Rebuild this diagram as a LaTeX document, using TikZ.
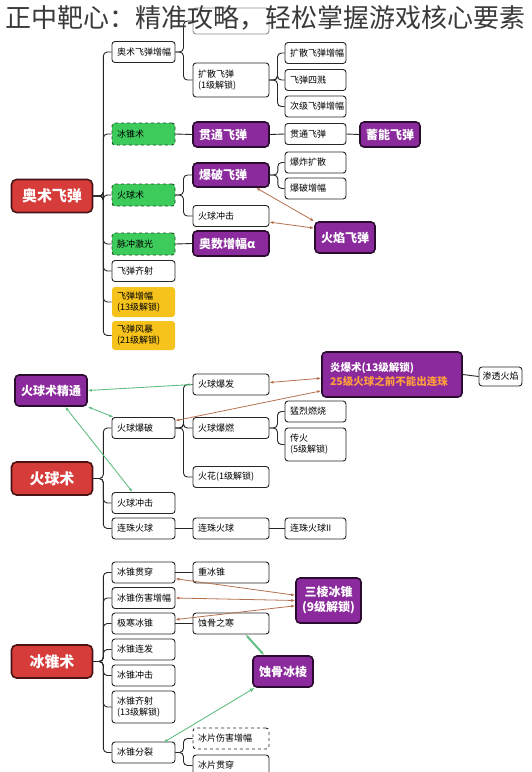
\documentclass[tikz,border=0pt]{standalone}
\usepackage{fontspec}
\setmainfont{Noto Sans CJK SC}
\usetikzlibrary{arrows.meta}

\definecolor{rootred}{HTML}{D63C3A}
\definecolor{rootline}{HTML}{4A1414}
\definecolor{skillpurple}{HTML}{8B2A9C}
\definecolor{purpleline}{HTML}{2B0B2E}
\definecolor{skillgreen}{HTML}{3DCB5B}
\definecolor{greenline}{HTML}{1E4D26}
\definecolor{unlockyellow}{HTML}{F6C31C}
\definecolor{linkbrown}{HTML}{B5714E}
\definecolor{linkgreen}{HTML}{62BE82}
\definecolor{hinttext}{HTML}{FF9E3D}
\definecolor{titlegray}{HTML}{3A3A3A}

\begin{document}
\begin{tikzpicture}[x=1pt,y=-1pt,
    box/.style={draw=black!85, line width=0.9pt, rounded corners=3pt, fill=white,
      inner xsep=5pt, inner ysep=2pt, minimum height=21pt, align=left,
      font=\fontsize{9}{11}\selectfont},
    boxA/.style={box, text width=53pt},
    boxB/.style={box, text width=66pt},
    boxC/.style={box, text width=51pt},
    root/.style={draw=rootline, fill=rootred, line width=1.6pt, rounded corners=5pt,
      text=white, minimum width=81pt, minimum height=33pt,
      font=\fontsize{15}{17}\selectfont\bfseries},
    hi/.style={draw=purpleline, fill=skillpurple, line width=1.6pt, rounded corners=4pt,
      text=white, inner xsep=6pt, font=\fontsize{12}{15}\selectfont\bfseries},
    hiB/.style={hi, text width=64pt, minimum height=25pt, align=left},
    grn/.style={boxA, draw=greenline, fill=skillgreen, dashed, minimum height=22pt},
    ylw/.style={boxA, draw=none, fill=unlockyellow, minimum height=30pt},
    tree/.style={draw=black!85, line width=0.9pt, rounded corners=4pt},
    link/.style={draw=linkbrown, line width=0.8pt,
      {Latex[length=4pt,width=3pt]}-{Latex[length=4pt,width=3pt]}},
    glink/.style={draw=linkgreen, line width=0.9pt,
      {Latex[length=4pt,width=3pt]}-{Latex[length=4pt,width=3pt]}},
  ]
  \useasboundingbox (0,0) rectangle (531,772);

  % 奥术飞弹
  \node[boxB, draw=black!45, minimum height=26pt] (top) at (231,21) {};
  \node[root] (am) at (52,196) {奥术飞弹};
  \node[boxA] (a1) at (143.5,52) {奥术飞弹增幅};
  \node[grn] (a2) at (143.5,134) {冰锥术};
  \node[grn] (a3) at (143.5,195) {火球术};
  \node[grn] (a4) at (143.5,244) {脉冲激光};
  \node[boxA] (a5) at (143.5,271) {飞弹齐射};
  \node[ylw] (a6) at (143.5,302) {飞弹增幅\\(13级解锁)};
  \node[ylw, minimum height=29pt] (a7) at (143.5,335.5) {飞弹风暴\\(21级解锁)};
  \node[boxB, minimum height=34pt] (b1) at (231,80) {扩散飞弹\\(1级解锁)};
  \node[hiB] (b2) at (231,134.5) {贯通飞弹};
  \node[hiB, minimum height=24pt] (b3) at (231,175) {爆破飞弹};
  \node[boxB] (b4) at (231,216) {火球冲击};
  \node[hiB] (b5) at (231,243.5) {奥数增幅α};
  \node[boxC] (c1) at (315.5,53) {扩散飞弹增幅};
  \node[boxC] (c2) at (315.5,80) {飞弹四溅};
  \node[boxC] (c3) at (315.5,106.5) {次级飞弹增幅};
  \node[boxC] (c4) at (315.5,134) {贯通飞弹};
  \node[boxC] (c5) at (315.5,162.5) {爆炸扩散};
  \node[boxC] (c6) at (315.5,188.5) {爆破增幅};
  \node[hi, minimum width=54pt, minimum height=25pt] (d1) at (390,134.5) {蓄能飞弹};
  \node[hi, minimum width=60pt, minimum height=31pt] (d2) at (345,237.5) {火焰飞弹};

  \draw[tree] (am.east) -- ++(10,0) |- (a1.west);
  \draw[tree] (am.east) -- ++(10,0) |- (a2.west);
  \draw[tree] (am.east) -- ++(10,0) |- (a3.west);
  \draw[tree] (am.east) -- ++(10,0) |- (a4.west);
  \draw[tree] (am.east) -- ++(10,0) |- (a5.west);
  \draw[tree] (am.east) -- ++(10,0) |- (a6.west);
  \draw[tree] (am.east) -- ++(10,0) |- (a7.west);
  \draw[tree] (a1.east) -- ++(8,0) |- (top.west);
  \draw[tree] (a1.east) -- ++(8,0) |- (b1.west);
  \draw[tree] (b1.east) -- ++(8,0) |- (c1.west);
  \draw[tree] (b1.east) -- ++(8,0) |- (c2.west);
  \draw[tree] (b1.east) -- ++(8,0) |- (c3.west);
  \draw[tree] (a2.east) -- (b2.west);
  \draw[tree] (b2.east) -- (c4.west);
  \draw[tree] (c4.east) -- (d1.west);
  \draw[tree] (a3.east) -- ++(8,0) |- (b3.west);
  \draw[tree] (a3.east) -- ++(8,0) |- (b4.west);
  \draw[tree] (b3.east) -- ++(8,0) |- (c5.west);
  \draw[tree] (b3.east) -- ++(8,0) |- (c6.west);
  \draw[tree] (a4.east) -- (b5.west);
  \draw[link] (b3.-27) -- (d2.north west);
  \draw[link] (b4.-9) -- (d2.163);

  % 火球术
  \node[hi, minimum width=72pt, minimum height=31pt] (fm) at (51,390.5) {火球术精通};
  \node[root] (fr) at (52,478.5) {火球术};
  \node[boxA] (e1) at (143.5,428) {火球爆破};
  \node[boxA] (e2) at (143.5,503) {火球冲击};
  \node[boxA] (e3) at (143.5,528.5) {连珠火球};
  \node[boxB] (f1) at (231,384.5) {火球爆发};
  \node[boxB] (f2) at (231,428) {火球爆燃};
  \node[boxB] (f3) at (231,477) {火花(1级解锁)};
  \node[boxB] (f4) at (231,528.5) {连珠火球};
  \node[boxC] (g1) at (315.5,411.5) {猛烈燃烧};
  \node[boxC, minimum height=33pt] (g2) at (315.5,444.5) {传火\\(5级解锁)};
  \node[boxC] (g3) at (315.5,528.5) {连珠火球II};
  \node[hi, inner xsep=8pt, text width=124pt, minimum height=45pt, align=left,
    font=\fontsize{10.5}{14}\selectfont\bfseries] (yb) at (392,374.5)
    {炎爆术(13级解锁)\\\textcolor{hinttext}{25级火球之前不能出连珠}};
  \node[box, inner xsep=3pt, minimum width=43pt, minimum height=19pt] (st) at (500.5,376.5) {渗透火焰};

  \draw[tree] (fr.east) -- ++(10,0) |- (e1.west);
  \draw[tree] (fr.east) -- ++(10,0) |- (e2.west);
  \draw[tree] (fr.east) -- ++(10,0) |- (e3.west);
  \draw[tree] (e1.east) -- ++(8,0) |- (f1.west);
  \draw[tree] (e1.east) -- ++(8,0) |- (f2.west);
  \draw[tree] (e1.east) -- ++(8,0) |- (f3.west);
  \draw[tree] (f2.east) -- ++(8,0) |- (g1.west);
  \draw[tree] (f2.east) -- ++(8,0) |- (g2.west);
  \draw[tree] (e3.east) -- (f4.west);
  \draw[tree] (f4.east) -- (g3.west);
  \draw[tree] (yb.east) -- (st.west);
  \draw[link] (f1.3) -- (yb.183);
  \draw[link] (e1.13) -- (yb.193);
  \draw[glink] (fm.east) -- (f1.west);
  \draw[glink] (fm.south east) -- (e1.160);
  \draw[glink] (fm.-49) -- (e2.135);

  % 冰锥术
  \node[root] (ir) at (52,661.5) {冰锥术};
  \node[boxA] (h1) at (143.5,572.5) {冰锥贯穿};
  \node[boxA] (h2) at (143.5,598) {冰锥伤害增幅};
  \node[boxA] (h3) at (143.5,623.5) {极寒冰锥};
  \node[boxA] (h4) at (143.5,649.5) {冰锥连发};
  \node[boxA] (h5) at (143.5,675.5) {冰锥冲击};
  \node[boxA, minimum height=32pt] (h6) at (143.5,707) {冰锥齐射\\(13级解锁)};
  \node[boxA] (h7) at (143.5,752.5) {冰锥分裂};
  \node[boxB] (i1) at (231,572.5) {重冰锥};
  \node[boxB] (i2) at (231,623.5) {蚀骨之寒};
  \node[boxB, dashed] (i3) at (231,738.5) {冰片伤害增幅};
  \node[boxB] (i4) at (231,765.5) {冰片贯穿};
  \node[hi, minimum width=65pt, minimum height=45pt, align=center] (sl) at (328.5,600.5) {三棱冰锥\\(9级解锁)};
  \node[hi, minimum width=60pt, minimum height=31pt] (sg) at (283,671.5) {蚀骨冰棱};

  \draw[tree] (ir.east) -- ++(10,0) |- (h1.west);
  \draw[tree] (ir.east) -- ++(10,0) |- (h2.west);
  \draw[tree] (ir.east) -- ++(10,0) |- (h3.west);
  \draw[tree] (ir.east) -- ++(10,0) |- (h4.west);
  \draw[tree] (ir.east) -- ++(10,0) |- (h5.west);
  \draw[tree] (ir.east) -- ++(10,0) |- (h6.west);
  \draw[tree] (ir.east) -- ++(10,0) |- (h7.west);
  \draw[tree] (h1.east) -- (i1.west);
  \draw[tree] (h3.east) -- (i2.west);
  \draw[tree] (h7.east) -- ++(8,0) |- (i3.west);
  \draw[tree] (h7.east) -- ++(8,0) |- (i4.west);
  \draw[link] (h1.-11) -- (sl.171);
  \draw[link] (h2.east) -- (sl.west);
  \draw[link] (h3.7) -- (sl.189);
  \draw[glink, line width=2pt] (i2.-37) -- (sg.139);
  \draw[glink, {Circle[length=3pt]}-{Latex[length=5pt,width=4pt]}] (h7.27) -- (sg.210);

  % title
  \node[text=titlegray, font=\fontsize{26}{28}\selectfont] (title) at (265.5,18) {正中靶心：精准攻略，轻松掌握游戏核心要素};
\end{tikzpicture}
\end{document}
